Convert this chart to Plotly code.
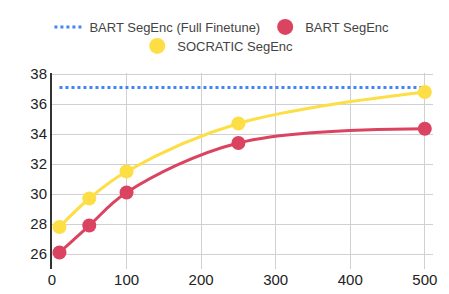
import plotly.graph_objects as go

x_vals = [10, 50, 100, 250, 500]
full_finetune = [37.1, 37.1, 37.1, 37.1, 37.1]
bart_segenc = [26.1, 27.9, 30.1, 33.4, 34.35]
socratic_segenc = [27.8, 29.7, 31.5, 34.7, 36.8]

BLUE = "#4285F4"
RED = "#DB4461"
YELLOW = "#FDDE45"

fig = go.Figure()
fig.add_trace(go.Scatter(x=x_vals, y=full_finetune, mode="lines",
                         name="BART SegEnc (Full Finetune)",
                         line=dict(color=BLUE, width=3, dash="dot"),
                         legend="legend"))
fig.add_trace(go.Scatter(x=x_vals, y=bart_segenc, mode="lines+markers",
                         name="BART SegEnc", showlegend=False,
                         line=dict(color=RED, width=3, shape="spline"),
                         marker=dict(color=RED, size=14)))
fig.add_trace(go.Scatter(x=x_vals, y=socratic_segenc, mode="lines+markers",
                         name="SOCRATIC SegEnc", showlegend=False,
                         line=dict(color=YELLOW, width=3, shape="spline"),
                         marker=dict(color=YELLOW, size=14)))
# legend-only entries (circle icons)
fig.add_trace(go.Scatter(x=[None], y=[None], mode="markers", name="BART SegEnc",
                         marker=dict(color=RED, size=16), legend="legend"))
fig.add_trace(go.Scatter(x=[None], y=[None], mode="markers", name="SOCRATIC SegEnc",
                         marker=dict(color=YELLOW, size=16), legend="legend2"))

legend_font = dict(family="Liberation Sans, Arial, sans-serif", size=13, color="#444444")
fig.update_layout(
    width=441, height=286,
    margin=dict(l=44, r=16, t=65, b=25, autoexpand=False),
    paper_bgcolor="white", plot_bgcolor="white",
    font=dict(family="Liberation Sans, Arial, sans-serif", size=15, color="#222222"),
    showlegend=True,
    legend=dict(orientation="h", x=0.446, xanchor="center", y=1.235, yanchor="middle",
                font=legend_font, bgcolor="rgba(0,0,0,0)"),
    legend2=dict(orientation="h", x=0.435, xanchor="center", y=1.138, yanchor="middle",
                 font=legend_font, bgcolor="rgba(0,0,0,0)"),
    xaxis=dict(range=[0, 511], tickvals=[0, 100, 200, 300, 400, 500],
               showgrid=True, gridcolor="#D0D0D0", gridwidth=1,
               zeroline=False, showline=False, ticks="", fixedrange=True),
    yaxis=dict(range=[25.0, 38.07], tickvals=[26, 28, 30, 32, 34, 36, 38],
               showgrid=True, gridcolor="#D0D0D0", gridwidth=1,
               zeroline=False, showline=True, linecolor="#333333", linewidth=2,
               ticks="", fixedrange=True),
)

fig.write_html("out.html")
